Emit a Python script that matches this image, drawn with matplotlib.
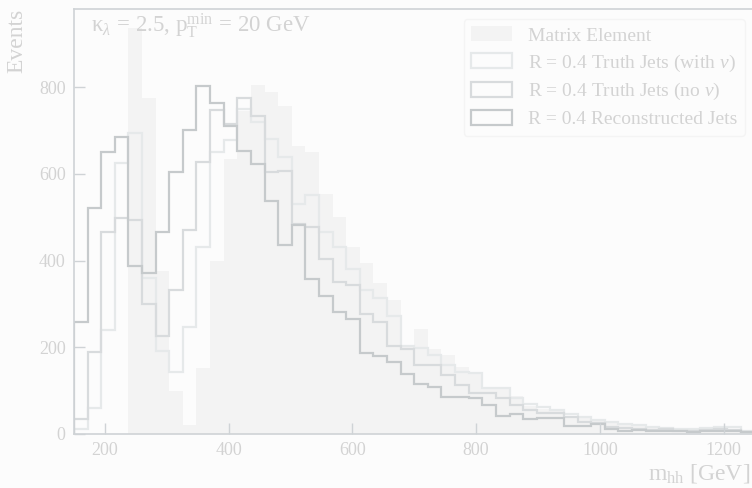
import numpy as np
import matplotlib.pyplot as plt
from matplotlib.patches import Patch

# bin edges: 50 bins from 150 to 1250 GeV
edges = np.linspace(150, 1250, 51)

matrix_element = [0, 0, 0, 0, 935, 774, 375, 98, 21, 153,
                  400, 635, 745, 804, 788, 756, 665, 650, 553, 501,
                  431, 394, 348, 309, 205, 242, 196, 181, 155, 141,
                  108, 106, 87, 64, 58, 58, 42, 42, 30, 26,
                  22, 18, 17, 13, 12, 10, 10, 14, 12, 6]

truth_with_nu = [11, 60, 240, 625, 693, 360, 192, 144, 246, 431,
                 650, 677, 750, 719, 681, 638, 530, 550, 465, 430,
                 381, 332, 313, 271, 204, 198, 181, 160, 144, 140,
                 105, 105, 82, 70, 62, 56, 45, 40, 33, 27,
                 22, 20, 16, 14, 12, 11, 13, 17, 15, 8]

truth_no_nu = [35, 190, 465, 498, 494, 300, 227, 332, 470, 627,
               747, 714, 775, 734, 604, 607, 485, 478, 403, 350,
               343, 276, 259, 204, 196, 158, 158, 135, 113, 95,
               94, 82, 67, 55, 48, 48, 40, 28, 25, 17,
               13, 12, 10, 11, 8, 7, 9, 12, 10, 5]

reco_jets = [258, 521, 650, 684, 388, 371, 465, 603, 702, 802,
             763, 710, 652, 623, 537, 436, 482, 357, 319, 281,
             265, 186, 180, 165, 138, 116, 109, 85, 86, 84,
             66, 42, 45, 34, 37, 37, 18, 18, 22, 12,
             6, 10, 8, 6, 8, 5, 6, 8, 6, 4]

plt.rcParams['font.family'] = ['Liberation Serif', 'DejaVu Serif']
plt.rcParams['mathtext.fontset'] = 'custom'
plt.rcParams['mathtext.rm'] = 'Liberation Serif'
plt.rcParams['mathtext.it'] = 'Liberation Serif:italic'

text_col = '#d3d3d3'
spine_col = '#cfd3d6'
me_col = '#f3f3f3'
wnu_col = '#e6e9ea'
nonu_col = '#d8dbdd'
reco_col = '#c6cacc'

fig = plt.figure(figsize=(7.52, 4.88), dpi=100, facecolor='#fcfcfc')
ax = fig.add_axes([0.0984, 0.1107, 0.905, 0.8709])
ax.set_facecolor('#fcfcfc')

# histograms
ax.stairs(matrix_element, edges, fill=True, color=me_col)
ax.stairs(truth_with_nu, edges, color=wnu_col, lw=1.6)
ax.stairs(truth_no_nu, edges, color=nonu_col, lw=1.6)
ax.stairs(reco_jets, edges, color=reco_col, lw=1.6)

ax.set_xlim(150, 1250)
ax.set_ylim(0, 980)
ax.set_xticks([200, 400, 600, 800, 1000, 1200])
ax.set_yticks([0, 200, 400, 600, 800])

ax.tick_params(direction='in', length=8, width=1, colors=spine_col,
               labelcolor=text_col, labelsize=13, pad=6)
for s in ax.spines.values():
    s.set_color(spine_col)
    s.set_linewidth(1.2)

ax.set_xlabel(r'$\mathrm{m}_{\mathrm{hh}}$ [GeV]', color=text_col,
              fontsize=17, ha='right')
ax.xaxis.set_label_coords(0.994, -0.065)
ax.set_ylabel('Events', loc='top', color=text_col, fontsize=17,
              labelpad=8)

ax.text(0.025, 0.995,
        r'$\mathrm{\kappa}_\lambda\,=\,2.5$, $\mathrm{p}_\mathrm{T}^\mathrm{min}\,=\,20$ GeV',
        transform=ax.transAxes, ha='left', va='top',
        color=text_col, fontsize=16.5)

handles = [
    Patch(facecolor=me_col, edgecolor='none', label='Matrix Element'),
    Patch(facecolor='none', edgecolor=wnu_col, lw=1.6,
          label=r'R = 0.4 Truth Jets (with $\nu$)'),
    Patch(facecolor='none', edgecolor=nonu_col, lw=1.6,
          label=r'R = 0.4 Truth Jets (no $\nu$)'),
    Patch(facecolor='none', edgecolor=reco_col, lw=1.6,
          label='R = 0.4 Reconstructed Jets'),
]
leg = ax.legend(handles=handles, loc='upper right', fontsize=14,
                frameon=True, handlelength=2.1, handleheight=0.8,
                labelspacing=0.4, borderaxespad=0.5, fancybox=True)
leg.get_frame().set_facecolor('#fcfcfc')
leg.get_frame().set_edgecolor('#f2f2f2')
for t in leg.get_texts():
    t.set_color(text_col)

fig.savefig('out.png', dpi=100, facecolor=fig.get_facecolor())
